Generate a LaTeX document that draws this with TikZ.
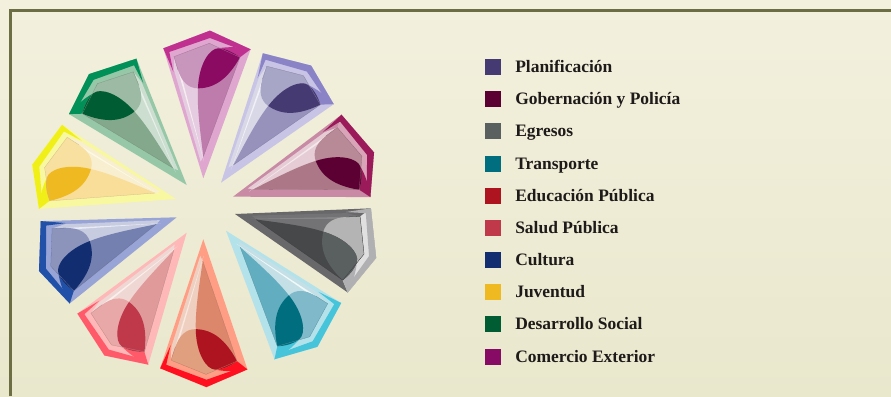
\documentclass[tikz,border=0pt]{standalone}
\usepackage{fontspec}
\setmainfont{Liberation Serif}

% one petal, drawn with its tip at the scope origin
\newcommand{\petal}[9]{
    \definecolor{edgecol}{HTML}{#2}\definecolor{sidecol}{HTML}{#3}\definecolor{headcol}{HTML}{#4}
    \definecolor{lightcol}{HTML}{#5}\definecolor{hcol}{HTML}{#6}\definecolor{lcol}{HTML}{#7}\definecolor{lenscol}{HTML}{#8}
    \definecolor{stripecol}{HTML}{#9}
    \begin{scope}[#1, scale=0.3333, shift={(-160,-475)}]
        \fill[sidecol] (160,475) -- (40,85) -- (180,32) -- (302,88) -- cycle;
        \fill[headcol] (40,85) -- (180,32) -- (302,88) -- (270,112) -- (178,70) -- (72,110) -- cycle;
        \fill[edgecol] (40,85) -- (180,32) -- (302,88) -- (280,92) -- (180,54) -- (58,96) -- (70,155) -- cycle;
        \fill[edgecol] (302,88) .. controls (265,80) and (235,80) .. (205,85) -- (270,112) -- cycle;
        % inner polygon and the light band to its left
        \fill[lightcol] (72,150) -- (72,110) -- (178,70) -- (270,112) -- (160,410) -- (152,425) -- cycle;
        \fill[stripecol] (85,155) -- (91,155) -- (162,425) -- cycle;
        \fill[hcol] (84,150) -- (72,110) -- (178,70) -- (270,112)
            .. controls (235,175) and (195,205) .. (144,205) .. controls (115,205) and (95,185) .. (84,150) -- cycle;
        \fill[lcol] (160,410) .. controls (150,330) and (141,260) .. (144,205) .. controls (147,130) and (180,85) .. (205,85)
            .. controls (230,85) and (255,100) .. (270,112) -- cycle;
        \fill[lenscol] (144,205) .. controls (147,130) and (180,85) .. (205,85) .. controls (230,85) and (255,100) .. (270,112)
            .. controls (235,175) and (195,205) .. (144,205) -- cycle;
        \draw[lcol!85!black, line width=0.2pt] (84,150) -- (72,110) -- (178,70) -- (270,112) -- (160,410);
    \end{scope}
}

\begin{document}
\begin{tikzpicture}[x=0.75pt, y=-0.75pt,
        swatch/.style={minimum size=12pt, inner sep=0pt, outer sep=0pt},
        item/.style={anchor=base west, inner sep=0pt, text=textcol, font=\fontsize{13.1}{15}\selectfont\bfseries}]
    \definecolor{textcol}{HTML}{1E1A1A}
    \definecolor{bgtop}{HTML}{F3F1DE}
    \definecolor{bgbottom}{HTML}{E9E7CC}
    \definecolor{framecol}{HTML}{6E6E45}
    \useasboundingbox (0,0) rectangle (891,396);
    \shade[top color=bgtop, bottom color=bgbottom] (0,0) rectangle (891,396);
    \draw[framecol, line width=2.25pt] (10.5,396) -- (10.5,10.5) -- (891,10.5);

    \petal{shift={(203.3,178.3)}, rotate=0}{C0308F}{DFA6CF}{DFA6CF}{E6CCE0}{C896BC}{BE7CAC}{8B0A62}{F4ECF0}
    \petal{shift={(221,182.7)}, rotate=-35}{8A84C6}{C8C4E6}{C8C4E6}{D9D8E6}{A8A6C6}{9692BC}{463A73}{F0F0F6}
    \petal{shift={(233,196.7)}, rotate=-70}{9A1A5A}{C88AA4}{D8A4B8}{E6CCD4}{B88A98}{AC7888}{5C0033}{F4E8EC}
    \petal{shift={(235,214)}, rotate=-104.7}{B0B0B2}{68686A}{E0E0E0}{737375}{B4B4B4}{47484A}{5A6060}{858587}
    \petal{shift={(226,230.7)}, rotate=-139.2}{45C4DA}{B4E2EA}{B4E2EA}{C4E0E6}{80BACA}{62AEC0}{006E7F}{F0F8F8}
    \petal{shift={(203.3,239.3)}, rotate=-181.4, xscale=-1}{FF1020}{FF9E84}{FF9E84}{EFD0C0}{E0A080}{DC866C}{AE1420}{F8E8E0}
    \petal{shift={(186.7,232.7)}, rotate=-216.4, xscale=-1}{FF5A6A}{FFB8B8}{FFB8B8}{EFD8D4}{E8A8A8}{E09A9A}{C0394B}{FBEFEC}
    \petal{shift={(176.7,217.3)}, rotate=-251.3, xscale=-1}{2050A8}{98A4D6}{98A4D6}{C8CCE0}{8C94BC}{7480B0}{122E70}{E8EAF4}
    \petal{shift={(176,199)}, rotate=-286, xscale=-1}{F0F018}{F8F8A0}{F8F8A0}{F8EED0}{F8E0A0}{F8DE98}{EFB921}{FCF8E4}
    \petal{shift={(186.7,185)}, rotate=-321.2, xscale=-1}{009058}{96C8A8}{96C8A8}{CCDED0}{9CBAA4}{84A88C}{005C33}{E6F0E8}

    \node[swatch, fill={rgb,255:red,70;green,58;blue,115}](sw_planificacion) at (493,67) {};
    \node[swatch, fill={rgb,255:red,92;green,0;blue,51}](sw_gobernacion) at (493,99) {};
    \node[swatch, fill={rgb,255:red,90;green,95;blue,96}](sw_egresos) at (493,131) {};
    \node[swatch, fill={rgb,255:red,0;green,110;blue,127}](sw_transporte) at (493,164) {};
    \node[swatch, fill={rgb,255:red,174;green,20;blue,32}](sw_educacion) at (493,196) {};
    \node[swatch, fill={rgb,255:red,192;green,57;blue,75}](sw_salud) at (493,228) {};
    \node[swatch, fill={rgb,255:red,18;green,46;blue,112}](sw_cultura) at (493,260) {};
    \node[swatch, fill={rgb,255:red,239;green,185;blue,33}](sw_juventud) at (493,292) {};
    \node[swatch, fill={rgb,255:red,0;green,92;blue,51}](sw_desarrollo) at (493,324) {};
    \node[swatch, fill={rgb,255:red,135;green,10;blue,100}](sw_comercio) at (493,357) {};

    \node[item](planificacion) at (515,72.5) {Planificación};
    \node[item](gobernacion) at (515,104.5) {Gobernación y Policía};
    \node[item](egresos) at (515,136.5) {Egresos};
    \node[item](transporte) at (515,169.5) {Transporte};
    \node[item](educacion) at (515,201.5) {Educación Pública};
    \node[item](salud) at (515,233.5) {Salud Pública};
    \node[item](cultura) at (515,265.5) {Cultura};
    \node[item](juventud) at (515,297.5) {Juventud};
    \node[item](desarrollo) at (515,329.5) {Desarrollo Social};
    \node[item](comercio) at (515,362.5) {Comercio Exterior};
\end{tikzpicture}
\end{document}
